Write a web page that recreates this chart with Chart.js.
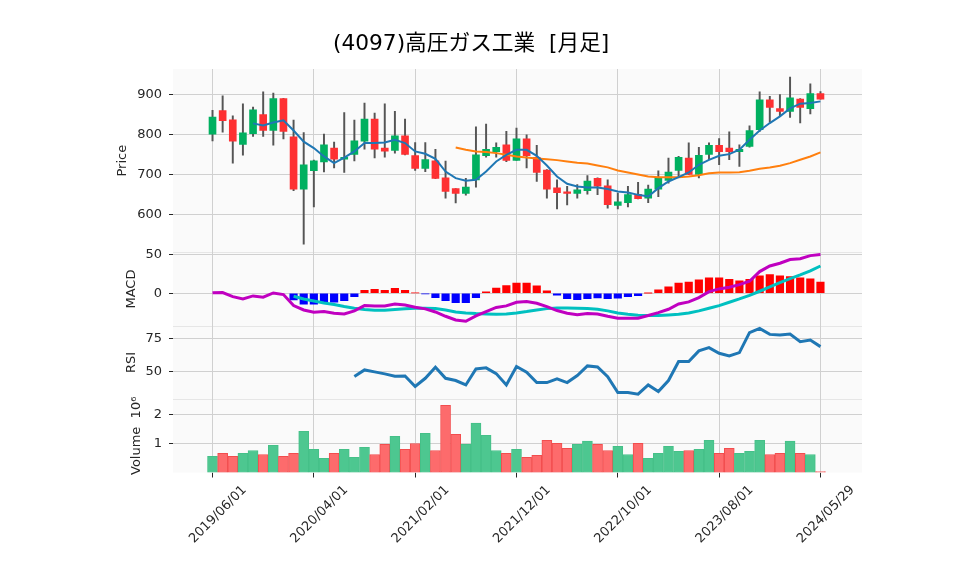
<!DOCTYPE html>
<html><head><meta charset="utf-8">
<script src="https://cdn.jsdelivr.net/npm/chart.js@4/dist/chart.umd.min.js"></script>
<style>html,body{margin:0;padding:0;background:#fff}#wrap{width:958px;height:575px;position:relative}</style>
</head><body><div id="wrap"><canvas id="c" width="958" height="575"></canvas></div>
<script>
const dates = ['2019/06/01','2019/07/01','2019/08/01','2019/09/01','2019/10/01','2019/11/01','2019/12/01',
'2020/01/01','2020/02/01','2020/03/01','2020/04/01','2020/05/01','2020/06/01','2020/07/01','2020/08/01','2020/09/01','2020/10/01','2020/11/01','2020/12/01',
'2021/01/01','2021/02/01','2021/03/01','2021/04/01','2021/05/01','2021/06/01','2021/07/01','2021/08/01','2021/09/01','2021/10/01','2021/11/01','2021/12/01',
'2022/01/01','2022/02/01','2022/03/01','2022/04/01','2022/05/01','2022/06/01','2022/07/01','2022/08/01','2022/09/01','2022/10/01','2022/11/01','2022/12/01',
'2023/01/01','2023/02/01','2023/03/01','2023/04/01','2023/05/01','2023/06/01','2023/07/01','2023/08/01','2023/09/01','2023/10/01','2023/11/01','2023/12/01',
'2024/01/01','2024/02/01','2024/03/01','2024/04/01','2024/05/01','2024/05/29'];
const tickIndex = [0,10,20,30,40,50,60];

const opens  = [801,860,837,775,802,850,810,890,794,663,709,731,766,738,750,783,839,766,760,797,747,715,734,691,664,652,686,747,757,774,735,789,743,711,666,656,652,659,690,671,622,629,650,640,663,685,710,741,700,750,773,766,757,770,812,887,865,858,889,865,903];
const highs  = [861,897,847,877,869,907,904,891,836,805,736,801,781,855,836,879,854,877,858,839,780,780,763,733,664,690,819,826,779,808,816,799,773,712,686,670,674,697,691,686,653,670,680,673,709,741,745,779,768,779,790,807,774,822,907,896,900,944,890,927,908];
const lows   = [784,806,728,748,795,795,773,789,659,525,618,706,716,705,734,763,741,743,753,749,710,707,689,640,628,648,668,743,743,732,735,716,682,640,613,623,640,650,649,615,613,618,638,629,644,678,695,699,691,737,724,737,720,768,808,831,845,843,829,852,889];
const closes = [844,835,783,804,862,810,890,808,663,724,734,774,738,743,784,839,763,758,797,750,715,737,690,657,652,668,749,763,768,735,789,747,705,663,654,652,661,683,670,624,631,649,639,663,691,706,743,700,748,773,757,757,763,810,887,868,858,892,868,903,889];
const volumes = [555000,660000,555000,660000,760000,620000,940000,555000,660000,1420000,800000,490000,660000,800000,520000,870000,620000,970000,1250000,800000,1000000,1350000,760000,2320000,1320000,970000,1700000,1280000,760000,660000,800000,520000,590000,1110000,1010000,830000,970000,1080000,970000,760000,900000,620000,1010000,490000,660000,900000,730000,760000,800000,1110000,660000,830000,660000,730000,1110000,620000,660000,1080000,660000,620000,35000];

const ma5 = [null,null,null,null,828,823,830,835.5,810,782,766,745,728,742,757.5,778.5,778.5,780,787,778.5,757.5,751.6,739,707,690.5,683.7,686.3,707,732.4,749.1,761.7,761.7,746.6,722.3,694.6,676.2,669.5,667,667,663,657,654.4,648.5,644.3,665.3,682.1,693,704.7,724,736.5,746.6,750.8,761.7,786.8,810.3,828.8,845.5,865.6,877.4,879,883.2];
const ma25 = [null,null,null,null,null,null,null,null,null,null,null,null,null,null,null,null,null,null,null,null,null,null,null,null,767.6,761.7,757.5,755.8,753.3,749.1,745,742.4,740,738.2,735.7,732.4,729,727.3,722.3,717.5,709.7,704.7,699.7,694.6,693,693,693,694.6,698,703,704.7,704.7,705.5,708.9,713.9,717.3,721.5,728.2,736.5,744.9,755];
const macd = [0.5,0.9,-4.3,-7.3,-3.4,-5.1,0.4,-1.7,-15.8,-21.4,-24.4,-23.5,-25.6,-26.5,-22.6,-15.8,-16.2,-16.2,-13.7,-15,-17.9,-20,-24,-29.5,-34.2,-35.9,-29,-23.5,-18.2,-16.2,-11.5,-10.7,-12.8,-17.1,-22.2,-25.6,-27.4,-26,-26.5,-29.5,-32,-32,-32,-28.6,-24.8,-20.5,-13.7,-11.1,-5.6,2.1,5.6,7.7,11.1,15.4,27.8,35,38.5,43.2,44.4,48.3,49.6];
const signal = [null,null,null,null,null,null,null,null,-3.8,-7.3,-9.8,-12.4,-14.5,-17.1,-19.2,-20.9,-21.8,-21.8,-20.9,-20,-19.2,-19.2,-19.7,-21.4,-24,-25.2,-26,-26.5,-26.9,-26.5,-25.2,-23.5,-21.4,-19.7,-18.8,-18.8,-19.2,-19.7,-20.5,-22.6,-25.2,-26.9,-28.2,-28.6,-28.6,-27.8,-26.9,-25.2,-22.6,-19.2,-15.8,-11.5,-7.3,-2.6,2.6,8.1,13.7,18.8,23.5,28.6,35];
const hist = [null,null,null,null,null,null,null,null,-8.5,-14.1,-14.1,-11.5,-11.5,-9.4,-4.3,3.8,5.1,3.8,6.4,3.8,0.3,-0.8,-5.6,-9.4,-12,-12,-5.6,1.7,6.5,9.8,13.2,13.2,9.4,3,-2.6,-6.8,-8.1,-6.8,-6,-6.8,-6.4,-4.3,-3,0.2,4.3,8.1,13.2,14.5,17.1,19.7,19.7,17.9,15.8,17.9,22.2,23.9,22.2,21.4,19.7,18.4,14.5];
const rsi = [null,null,null,null,null,null,null,null,null,null,null,null,null,null,45.9,51,49.5,48,46.2,46.4,38.3,44.6,53.1,44.6,42.9,39.5,51.8,52.6,48.2,39.5,53.6,49.2,41.3,41.3,44.1,41.3,46.7,54.1,53.3,45.9,33.7,33.7,32.4,39.5,34.4,42.9,57.4,57.4,65.6,68.1,63.8,61.7,64.3,79.6,82.9,78.3,77.8,78.6,72.7,74,68.9];

const priceTicks = [600,700,800,900];
const macdTicks = [0,50];
const rsiTicks = [50,75];
const volTicks = [1000000,2000000];

const FONT = "'DejaVu Sans', 'Noto Sans CJK JP', sans-serif";
const FS = 13;
const UP = '#00b060', DOWN = '#fe3032', VUP = '#4dc790', VDOWN = '#fd6b6c';
const GRID = '#d0d0d0', TICKC = '#262626';

const idx = closes.map((_, i) => i);
const isUp = i => closes[i] >= opens[i];
const pts = arr => arr.map((v, i) => ({x: i, y: v})).filter(p => p.y !== null);
const histPts = pts(hist);

function yAxis(opts) {
  return Object.assign({
    type: 'linear', position: 'left', stack: 'panels', offset: false,
    afterFit: s => { s.width = 173; },
    border: {display: false},
    grid: {color: GRID, lineWidth: 1, tickColor: TICKC, tickLength: 4, drawTicks: true, offset: false},
    ticks: {padding: 7, color: TICKC, font: {family: FONT, size: FS}}
  }, opts);
}
function title(text, pad) {
  return {display: true, text: text, color: TICKC, font: {family: FONT, size: FS}, padding: {top: pad, bottom: 0}};
}

const panelPlugin = {
  id: 'panels',
  beforeDraw(chart) {
    const ctx = chart.ctx, a = chart.chartArea;
    ctx.save();
    ctx.fillStyle = '#fafafa';
    ctx.fillRect(a.left, a.top, a.right - a.left, a.bottom - a.top);
    ctx.strokeStyle = '#e6e6e6';
    ctx.lineWidth = 1;
    ['yMacd', 'yRsi', 'yVol'].forEach(id => {
      const y = Math.round(chart.scales[id].top) + 0.5;
      ctx.beginPath(); ctx.moveTo(a.left, y); ctx.lineTo(a.right, y); ctx.stroke();
    });
    ctx.restore();
  },
  afterDraw(chart) {
    const ctx = chart.ctx;
    ctx.save();
    ctx.fillStyle = '#000';
    ctx.font = "21.7px " + FONT;
    ctx.textAlign = 'left';
    ctx.textBaseline = 'middle';
    ctx.fillText('(4097)高圧ガス工業  [月足]', 333, 44);
    ctx.restore();
  }
};

new Chart(document.getElementById('c'), {
  type: 'bar',
  data: {
    datasets: [
      {type: 'line', label: 'MA5', data: pts(ma5), yAxisID: 'yPrice', borderColor: '#1f77b4', borderWidth: 2, pointRadius: 0, tension: 0, order: 0},
      {type: 'line', label: 'MA25', data: pts(ma25), yAxisID: 'yPrice', borderColor: '#ff7f0e', borderWidth: 2, pointRadius: 0, tension: 0, order: 0},
      {type: 'bar', label: 'Body', data: idx.map(i => ({x: i, y: [opens[i], closes[i]]})), yAxisID: 'yPrice',
        backgroundColor: idx.map(i => isUp(i) ? UP : DOWN), borderWidth: 0, borderSkipped: false, barThickness: 7, grouped: false, order: 1},
      {type: 'bar', label: 'Wick', data: idx.map(i => ({x: i, y: [lows[i], highs[i]]})), yAxisID: 'yPrice',
        backgroundColor: '#555555', borderWidth: 0, borderSkipped: false, barThickness: 1.3, grouped: false, order: 2},
      {type: 'line', label: 'MACD', data: pts(macd), yAxisID: 'yMacd', borderColor: '#c000c0', borderWidth: 3, pointRadius: 0, tension: 0, order: 0},
      {type: 'line', label: 'Signal', data: pts(signal), yAxisID: 'yMacd', borderColor: '#00c0c0', borderWidth: 3, pointRadius: 0, tension: 0, order: 0},
      {type: 'bar', label: 'Hist', data: histPts, yAxisID: 'yMacd',
        backgroundColor: histPts.map(p => p.y >= 0 ? '#ff0000' : '#0000ff'), borderWidth: 0, barThickness: 7.5, grouped: false, order: 3},
      {type: 'line', label: 'RSI', data: pts(rsi), yAxisID: 'yRsi', borderColor: '#1f77b4', borderWidth: 3, pointRadius: 0, tension: 0, order: 0},
      {type: 'bar', label: 'Volume', data: idx.map(i => ({x: i, y: volumes[i]})), yAxisID: 'yVol',
        backgroundColor: idx.map(i => isUp(i) ? VUP : VDOWN), borderColor: idx.map(i => isUp(i) ? '#45c088' : '#f24d4e'),
        borderWidth: 1, borderSkipped: false, barThickness: 10, grouped: false, order: 3}
    ]
  },
  options: {
    responsive: false, animation: false,
    layout: {padding: {left: 0, right: 96, top: 69, bottom: 0}},
    plugins: {legend: {display: false}, tooltip: {enabled: false}, title: {display: false}},
    scales: {
      x: {
        type: 'linear', position: 'bottom', min: -3.9, max: 64.1, offset: false,
        afterBuildTicks: s => { s.ticks = tickIndex.map(v => ({value: v})); },
        afterFit: s => { s.height = 102.5; },
        border: {display: false},
        grid: {color: GRID, lineWidth: 1, tickColor: TICKC, tickLength: 5, drawTicks: true, offset: false},
        ticks: {autoSkip: false, maxRotation: 45, minRotation: 45, labelOffset: 32, padding: 5, color: TICKC,
          font: {family: FONT, size: FS}, callback: v => dates[v]}
      },
      yPrice: yAxis({stackWeight: 2.5, weight: 4, min: 504, max: 964.5,
        afterBuildTicks: s => { s.ticks = priceTicks.map(v => ({value: v})); },
        title: title('Price', 115)}),
      yMacd: yAxis({stackWeight: 1, weight: 3, min: -41.7, max: 52.4,
        afterBuildTicks: s => { s.ticks = macdTicks.map(v => ({value: v})); },
        title: title('MACD', 124)}),
      yRsi: yAxis({stackWeight: 1, weight: 2, min: 28.6, max: 84.9,
        afterBuildTicks: s => { s.ticks = rsiTicks.map(v => ({value: v})); },
        title: title('RSI', 124)}),
      yVol: yAxis({stackWeight: 1, weight: 1, min: 0, max: 2530000,
        afterBuildTicks: s => { s.ticks = volTicks.map(v => ({value: v})); },
        ticks: {padding: 7, color: TICKC, font: {family: FONT, size: FS}, callback: v => String(v / 1000000)},
        title: title('Volume  10\u2076', 129)})
    }
  },
  plugins: [panelPlugin]
});
</script>
</body></html>
